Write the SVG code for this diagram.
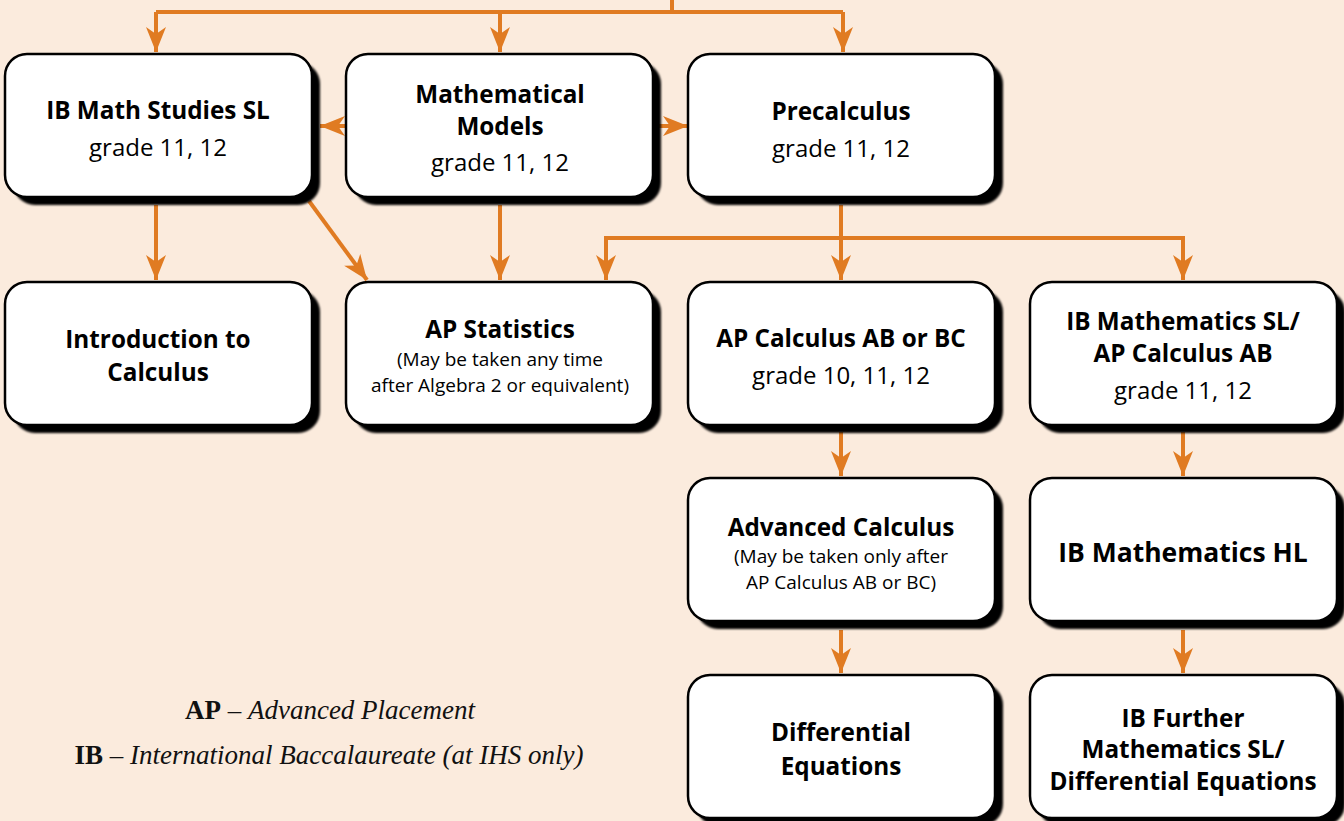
<svg xmlns="http://www.w3.org/2000/svg" width="1344" height="821" viewBox="0 0 1344 821">
<defs>
<style>
.box{fill:#ffffff;stroke:#000000;stroke-width:2.5}
.sh{fill:#000000}
.t{font-family:"Open Sans","Noto Sans","Liberation Sans",sans-serif;font-weight:700;font-size:24.3px;fill:#000;text-anchor:middle}
.g{font-family:"Open Sans","Noto Sans","Liberation Sans",sans-serif;font-weight:400;font-size:24px;fill:#000;text-anchor:middle}
.s{font-family:"Open Sans","Noto Sans","Liberation Sans",sans-serif;font-weight:400;font-size:19px;fill:#000;text-anchor:middle}
.c{fill:none;stroke:#E07B22;stroke-width:4}
.leg{font-family:"Liberation Serif","Times New Roman",serif;font-size:27px;fill:#111;text-anchor:middle}
</style>
<filter id="blur" x="-5%" y="-5%" width="110%" height="110%"><feGaussianBlur stdDeviation="1.1"/></filter>
<marker id="ah" markerUnits="userSpaceOnUse" markerWidth="26" markerHeight="22" refX="25" refY="11" orient="auto" viewBox="0 0 26 22">
<path d="M0,1 L25,11 L0,21 L7,11 Z" fill="#E07B22"/>
</marker>
</defs>
<rect width="1344" height="821" fill="#FBEBDD"/>

<g id="connectors">
<path class="c" d="M672,0 V12"/>
<path class="c" d="M156,12 H843"/>
<path class="c" d="M156,12 V52" marker-end="url(#ah)"/>
<path class="c" d="M500,12 V52" marker-end="url(#ah)"/>
<path class="c" d="M843,12 V52" marker-end="url(#ah)"/>
<path class="c" d="M348,126 H320" marker-end="url(#ah)"/>
<path class="c" d="M655,126 H688" marker-end="url(#ah)"/>
<path class="c" d="M156,205 V280" marker-end="url(#ah)"/>
<path class="c" d="M309,201 L367,280" marker-end="url(#ah)"/>
<path class="c" d="M500,205 V280" marker-end="url(#ah)"/>
<path class="c" d="M841,205 V280" marker-end="url(#ah)"/>
<path class="c" d="M606,280 V238 H1183 V280" marker-end="url(#ah)"/>
<path class="c" d="M606,240 V280" marker-end="url(#ah)"/>
<path class="c" d="M841,432 V476" marker-end="url(#ah)"/>
<path class="c" d="M1183,432 V476" marker-end="url(#ah)"/>
<path class="c" d="M841,630 V673" marker-end="url(#ah)"/>
<path class="c" d="M1183,630 V673" marker-end="url(#ah)"/>
</g>

<g id="n-ibstudies">
<rect class="sh" x="13" y="62" width="307" height="143" rx="22" filter="url(#blur)"/>
<rect class="box" x="5" y="54" width="307" height="143" rx="22"/>
<text class="t" x="158" y="119">IB Math Studies SL</text>
<text class="g" x="158" y="156">grade 11, 12</text>
</g>
<g id="n-models">
<rect class="sh" x="354" y="62" width="307" height="143" rx="22" filter="url(#blur)"/>
<rect class="box" x="346" y="54" width="307" height="143" rx="22"/>
<text class="t" x="500" y="103">Mathematical</text>
<text class="t" x="500" y="135">Models</text>
<text class="g" x="500" y="171">grade 11, 12</text>
</g>
<g id="n-precalc">
<rect class="sh" x="696" y="62" width="307" height="143" rx="22" filter="url(#blur)"/>
<rect class="box" x="688" y="54" width="307" height="143" rx="22"/>
<text class="t" x="841" y="120">Precalculus</text>
<text class="g" x="841" y="157">grade 11, 12</text>
</g>

<g id="n-intro">
<rect class="sh" x="13" y="290" width="307" height="143" rx="22" filter="url(#blur)"/>
<rect class="box" x="5" y="282" width="307" height="143" rx="22"/>
<text class="t" x="158" y="348">Introduction to</text>
<text class="t" x="158" y="381">Calculus</text>
</g>
<g id="n-apstats">
<rect class="sh" x="354" y="290" width="307" height="143" rx="22" filter="url(#blur)"/>
<rect class="box" x="346" y="282" width="307" height="143" rx="22"/>
<text class="t" x="500" y="338">AP Statistics</text>
<text class="s" x="500" y="366">(May be taken any time</text>
<text class="s" x="500" y="392">after Algebra 2 or equivalent)</text>
</g>
<g id="n-apcalc">
<rect class="sh" x="696" y="290" width="307" height="143" rx="22" filter="url(#blur)"/>
<rect class="box" x="688" y="282" width="307" height="143" rx="22"/>
<text class="t" x="841" y="347">AP Calculus AB or BC</text>
<text class="g" x="841" y="384">grade 10, 11, 12</text>
</g>
<g id="n-ibsl">
<rect class="sh" x="1038" y="290" width="307" height="143" rx="22" filter="url(#blur)"/>
<rect class="box" x="1030" y="282" width="307" height="143" rx="22"/>
<text class="t" x="1183" y="330">IB Mathematics SL/</text>
<text class="t" x="1183" y="362">AP Calculus AB</text>
<text class="g" x="1183" y="399">grade 11, 12</text>
</g>

<g id="n-advcalc">
<rect class="sh" x="696" y="486" width="307" height="143" rx="22" filter="url(#blur)"/>
<rect class="box" x="688" y="478" width="307" height="143" rx="22"/>
<text class="t" x="841" y="536">Advanced Calculus</text>
<text class="s" x="841" y="563">(May be taken only after</text>
<text class="s" x="841" y="589">AP Calculus AB or BC)</text>
</g>
<g id="n-ibhl">
<rect class="sh" x="1038" y="486" width="307" height="143" rx="22" filter="url(#blur)"/>
<rect class="box" x="1030" y="478" width="307" height="143" rx="22"/>
<text class="t" x="1183" y="562" style="font-size:26.5px">IB Mathematics HL</text>
</g>

<g id="n-diffeq">
<rect class="sh" x="696" y="683" width="307" height="143" rx="22" filter="url(#blur)"/>
<rect class="box" x="688" y="675" width="307" height="143" rx="22"/>
<text class="t" x="841" y="741">Differential</text>
<text class="t" x="841" y="775">Equations</text>
</g>
<g id="n-ibfurther">
<rect class="sh" x="1038" y="683" width="307" height="143" rx="22" filter="url(#blur)"/>
<rect class="box" x="1030" y="675" width="307" height="143" rx="22"/>
<text class="t" x="1183" y="727">IB Further</text>
<text class="t" x="1183" y="758">Mathematics SL/</text>
<text class="t" x="1183" y="790">Differential Equations</text>
</g>

<g id="legend">
<text class="leg" x="330" y="719"><tspan font-weight="700">AP</tspan> – <tspan font-style="italic">Advanced Placement</tspan></text>
<text class="leg" x="329" y="764"><tspan font-weight="700">IB</tspan> – <tspan font-style="italic">International Baccalaureate (at IHS only)</tspan></text>
</g>
</svg>
